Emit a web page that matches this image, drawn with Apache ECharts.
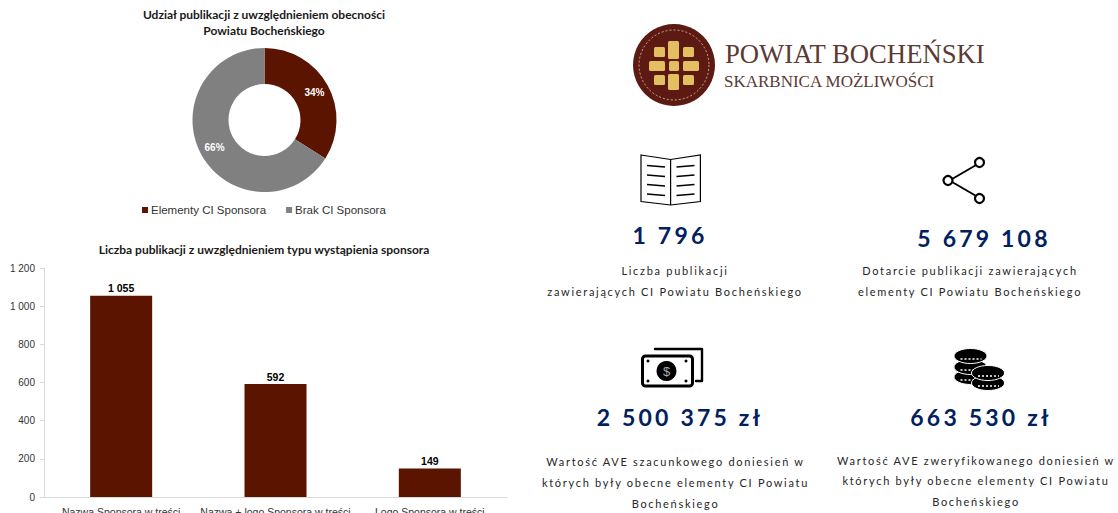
<!DOCTYPE html>
<html>
<head>
<meta charset="utf-8">
<title>Powiat Bocheński</title>
<script src="https://cdn.jsdelivr.net/npm/echarts@6/dist/echarts.min.js"></script>
<style>
    html, body { margin: 0; padding: 0; background: #fff; overflow: hidden; }
    #main { width: 1118px; height: 513px; }
    /* zrender has no letter spacing, so it is set on the svg text by colour */
    #main text[fill="#002060"] { letter-spacing: 3.2px; }
    #main text[fill="#262627"] { letter-spacing: 1.7px; }
</style>
</head>
<body>
<div id="main"></div>
<script>
var pieNames = ['Elementy CI Sponsora', 'Brak CI Sponsora'];
var pieValues = [34, 66];
var barCategories = ['Nazwa Sponsora w treści', 'Nazwa + logo Sponsora w treści', 'Logo Sponsora w treści'];
var barValues = [1055, 592, 149];
var kpiNumbers = ['1 796', '5 679 108', '2 500 375 zł', '663 530 zł'];
var kpiLines = [
    ['Liczba publikacji', 'zawierających CI Powiatu Bocheńskiego'],
    ['Dotarcie publikacji zawierających', 'elementy CI Powiatu Bocheńskiego'],
    ['Wartość AVE szacunkowego doniesień w', 'których były obecne elementy CI Powiatu', 'Bocheńskiego'],
    ['Wartość AVE zweryfikowanego doniesień w', 'których były obecne elementy CI Powiatu', 'Bocheńskiego']
];

var BROWN = '#5a1400';
var GRAY = '#808080';
var SANS = '"Liberation Sans", Arial, sans-serif';
var INK = '#000';

function thousands(v) {
    return String(v).replace(/\B(?=(\d{3})+$)/g, ' ');
}

function text(str, x, y, font, fill, align) {
    return {
        type: 'text', silent: true,
        style: { text: str, x: x, y: y, font: font, fill: fill, align: align || 'center', verticalAlign: 'middle' }
    };
}

function line(x1, y1, x2, y2, w, color) {
    return {
        type: 'line', silent: true,
        shape: { x1: x1, y1: y1, x2: x2, y2: y2 },
        style: { stroke: color || INK, lineWidth: w, fill: null }
    };
}

function box(x, y, w, h, r, fill, stroke, lw) {
    return {
        type: 'rect', silent: true,
        shape: { x: x, y: y, width: w, height: h, r: r },
        style: { fill: fill, stroke: stroke || null, lineWidth: lw || 0 }
    };
}

function ring(cx, cy, r, fill, stroke, lw) {
    return {
        type: 'circle', silent: true,
        shape: { cx: cx, cy: cy, r: r },
        style: { fill: fill, stroke: stroke || null, lineWidth: lw || 0 }
    };
}

function logo() {
    var gold = '#e2bf60';
    var out = [
        ring(674, 65, 41, '#5c1a12'),
        { type: 'circle', silent: true, shape: { cx: 674, cy: 65, r: 35 }, style: { fill: null, stroke: '#e8cfa8', lineWidth: 0.8, lineDash: [2, 2] } }
    ];
    var tiles = [
        [668, 41, 11, 18], [654, 47, 11, 10], [683, 47, 11, 10],
        [649, 61, 16, 10], [669, 61, 10, 10], [683, 61, 16, 10],
        [654, 75, 11, 10], [668, 74, 11, 16], [683, 75, 11, 10]
    ];
    tiles.forEach(function (t) {
        out.push(box(t[0], t[1], t[2], t[3], 1.5, gold));
    });
    out.push(text('POWIAT BOCHEŃSKI', 725, 54, '26.7px "Liberation Serif", serif', '#5b3a33', 'left'));
    out.push(text('SKARBNICA MOŻLIWOŚCI', 724, 81, '17px "Liberation Serif", serif', '#5b3a33', 'left'));
    return out;
}

function bookIcon() {
    var out = [{
        type: 'polygon', silent: true,
        shape: { points: [[641, 155], [670.6, 159.5], [700.4, 155], [700.4, 201.5], [670.6, 205], [641, 201.5]] },
        style: { fill: '#fff', stroke: INK, lineWidth: 1.2 }
    }, line(670.6, 159.5, 670.6, 205, 1.2)];
    [165.5, 175, 184.5, 194].forEach(function (y) {
        out.push(line(647, y, 665, y + 1.5, 1.3));
        out.push(line(676.5, y + 1.5, 694.5, y, 1.3));
    });
    return out;
}

function shareIcon() {
    return [
        line(949.5, 180.5, 980.5, 162.5, 2),
        line(949.5, 180.5, 980.5, 198.5, 2),
        ring(979.5, 162.5, 4.5, '#fff', INK, 2.2),
        ring(948, 180.5, 4.5, '#fff', INK, 2.2),
        ring(979.5, 198.5, 4.5, '#fff', INK, 2.2)
    ];
}

function moneyIcon() {
    var out = [
        { type: 'polyline', silent: true, shape: { points: [[655, 349], [702, 349], [702, 381], [696, 381]] }, style: { stroke: INK, lineWidth: 2.4, fill: null, lineJoin: 'round', lineCap: 'round' } },
        box(642.5, 356, 50, 30, 3, '#fff', INK, 3),
        ring(666.5, 371, 10, INK),
        text('$', 666.5, 371, '13px ' + SANS, '#aaa')
    ];
    [[648, 361], [686, 361], [648, 381], [686, 381]].forEach(function (p) {
        out.push(ring(p[0], p[1], 1.5, INK));
    });
    return out;
}

function coinsIcon() {
    var out = [];
    function coin(cx, cy) {
        out.push({ type: 'ellipse', silent: true, shape: { cx: cx, cy: cy, rx: 16.5, ry: 7.5 }, style: { fill: INK, stroke: '#fff', lineWidth: 1 } });
        out.push({ type: 'line', silent: true, shape: { x1: cx - 10, y1: cy + 3, x2: cx + 11, y2: cy + 3 }, style: { stroke: '#fff', lineWidth: 1.3, lineDash: [2, 2] } });
    }
    coin(970.5, 377);
    coin(970.5, 367);
    coin(970.5, 356);
    coin(988, 383);
    coin(988, 373);
    return out;
}

function kpiTexts() {
    var out = [];
    var numFont = 'bold 23px Lato, sans-serif';
    var lineFont = '11px Lato, sans-serif';
    var numAt = [[670, 235], [984, 238], [680, 417], [981, 417]];
    var lineAt = [[675, [270, 291]], [970, [270, 291]], [675.5, [461, 482, 503]], [976, [460, 480, 501]]];
    kpiNumbers.forEach(function (n, i) {
        out.push(text(n, numAt[i][0], numAt[i][1], numFont, '#002060'));
    });
    kpiLines.forEach(function (lines, i) {
        lines.forEach(function (s, j) {
            out.push(text(s, lineAt[i][0], lineAt[i][1][j], lineFont, '#262627'));
        });
    });
    return out;
}

var chart = echarts.init(document.getElementById('main'), null, { renderer: 'svg' });

chart.setOption({
    animation: false,
    title: [{
        text: 'Udział publikacji z uwzględnieniem obecności\nPowiatu Bocheńskiego',
        left: 259, top: 1, textAlign: 'center',
        textStyle: { fontFamily: 'Lato, sans-serif', fontSize: 12, fontWeight: 'bold', color: '#1a1a1a', lineHeight: 16 }
    }, {
        text: 'Liczba publikacji z uwzględnieniem typu wystąpienia sponsora',
        left: 259, top: 238, textAlign: 'center',
        textStyle: { fontFamily: 'Lato, sans-serif', fontSize: 12, fontWeight: 'bold', color: '#1a1a1a' }
    }],
    legend: {
        data: pieNames,
        left: 137, top: 199,
        itemWidth: 6, itemHeight: 6, itemGap: 20,
        icon: 'rect',
        textStyle: { fontFamily: SANS, fontSize: 11.5, color: '#333', padding: [0, 0, 0, -2] }
    },
    grid: { left: 44, right: 611, top: 268, bottom: 16, outerBoundsMode: 'none' },
    xAxis: {
        type: 'category',
        data: barCategories,
        axisLine: { lineStyle: { color: '#d9d9d9' } },
        axisTick: { length: 4, alignWithLabel: false, lineStyle: { color: '#d9d9d9' } },
        axisLabel: { fontFamily: SANS, fontSize: 10.5, color: '#333', margin: 9, interval: 0 }
    },
    yAxis: {
        type: 'value',
        min: 0, max: 1200, interval: 200,
        splitLine: { show: false },
        axisLine: { show: true, lineStyle: { color: '#d9d9d9' } },
        axisTick: { show: true, length: 4, lineStyle: { color: '#d9d9d9' } },
        axisLabel: { fontFamily: SANS, fontSize: 10, color: '#333', margin: 9, formatter: thousands }
    },
    series: [{
        type: 'pie',
        center: [264.5, 120],
        radius: [36, 72],
        startAngle: 90,
        clockwise: true,
        silent: true,
        color: [BROWN, GRAY],
        data: pieNames.map(function (n, i) {
            return { name: n, value: pieValues[i] };
        }),
        label: {
            position: 'inside',
            formatter: '{c}%',
            fontFamily: SANS, fontSize: 10, fontWeight: 'bold', color: '#fff'
        },
        labelLine: { show: false }
    }, {
        type: 'bar',
        data: barValues,
        barWidth: 62,
        silent: true,
        itemStyle: { color: BROWN },
        label: {
            show: true, position: 'top', distance: 2,
            fontFamily: SANS, fontSize: 10.5, fontWeight: 'bold', color: '#000',
            formatter: function (p) { return thousands(p.value); }
        }
    }],
    graphic: [].concat(logo(), bookIcon(), shareIcon(), moneyIcon(), coinsIcon(), kpiTexts())
});
</script>
</body>
</html>
